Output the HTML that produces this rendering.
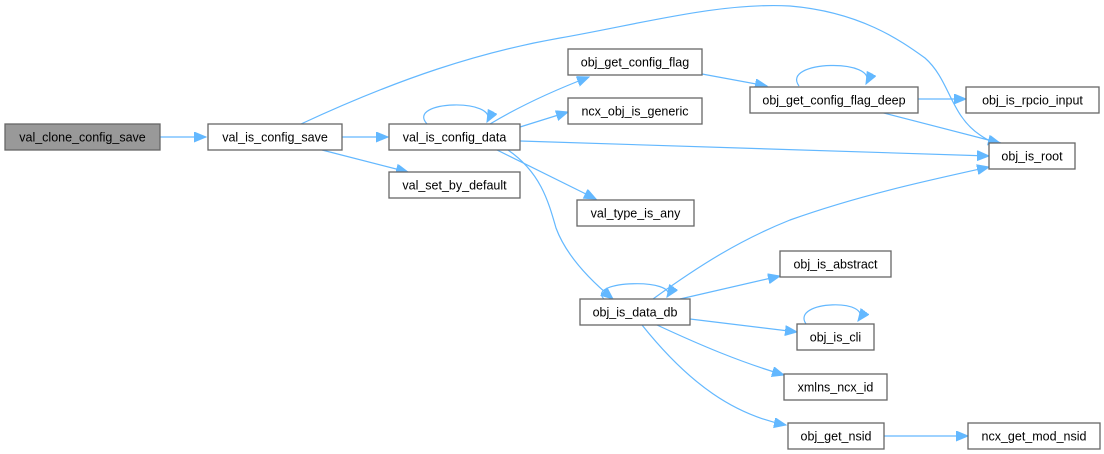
<!DOCTYPE html>
<html><head><meta charset="utf-8"><style>
html,body{margin:0;padding:0;background:#fff;}
svg{display:block;}
text{font-family:"Liberation Sans",Arial,sans-serif;font-size:12.5px;fill:#000;}
.b{fill:#fff;stroke:#666;stroke-width:1.3;}
.e{fill:none;stroke:#63b8ff;stroke-width:1.2;}
</style></head><body>
<svg width="1104" height="454" viewBox="0 0 1104 454" xmlns="http://www.w3.org/2000/svg">
<defs>
<marker id="a" markerUnits="userSpaceOnUse" markerWidth="14" markerHeight="12" refX="12" refY="5" orient="auto">
<path d="M0,0 L12,5 L0,10 Z" fill="#63b8ff" stroke="#63b8ff"/>
</marker>
</defs>
<g>
<path class="e" marker-end="url(#a)" d="M160,137 L206,137"/>
<path class="e" marker-end="url(#a)" d="M342,137 L388,137"/>
<path class="e" marker-end="url(#a)" d="M322,150 L408,172"/>
<path class="e" marker-end="url(#a)" d="M301,124 C400,78 480,52 560,38 C640,24 720,2 790,6 C860,12 900,40 925,58 C950,80 950,115 980,135 C990,142 995,143 1001,143"/>
<path class="e" marker-end="url(#a)" d="M427,124 C405,100 500,98 487,122"/>
<path class="e" marker-end="url(#a)" d="M490,124 C520,106 555,90 589,77"/>
<path class="e" marker-end="url(#a)" d="M520,127 L568,112"/>
<path class="e" marker-end="url(#a)" d="M520,141 L989,156"/>
<path class="e" marker-end="url(#a)" d="M497,150 L596,199"/>
<path class="e" marker-end="url(#a)" d="M508,150 C540,172 548,200 556,228 C566,255 590,280 613,299"/>
<path class="e" marker-end="url(#a)" d="M702,74 L767,86"/>
<path class="e" marker-end="url(#a)" d="M799,86 C780,60 880,58 866,84"/>
<path class="e" marker-end="url(#a)" d="M917,99 L966,99"/>
<path class="e" marker-end="url(#a)" d="M880,112 L1000,143"/>
<path class="e" marker-end="url(#a)" d="M604,299 C585,280 680,278 667,297"/>
<path class="e" marker-end="url(#a)" d="M653,299 C700,265 740,240 790,220 C860,195 930,180 989,167"/>
<path class="e" marker-end="url(#a)" d="M680,299 L780,276"/>
<path class="e" marker-end="url(#a)" d="M690,319 L797,332"/>
<path class="e" marker-end="url(#a)" d="M657,325 C700,345 740,362 784,375"/>
<path class="e" marker-end="url(#a)" d="M642,325 C690,385 735,415 786,425"/>
<path class="e" marker-end="url(#a)" d="M884,436 L968,436"/>
<path class="e" marker-end="url(#a)" d="M806,324 C790,300 875,298 858,321"/>
</g>
<g>
<rect x="5" y="124" width="155" height="26" fill="#999" stroke="#666" stroke-width="1.3"/>
<text x="82.5" y="141.5" text-anchor="middle">val_clone_config_save</text>
<rect class="b" x="208" y="124" width="134" height="26"/><text x="275" y="141.5" text-anchor="middle">val_is_config_save</text>
<rect class="b" x="389" y="124" width="131" height="26"/><text x="454.5" y="141.5" text-anchor="middle">val_is_config_data</text>
<rect class="b" x="389" y="172" width="131" height="26"/><text x="454.5" y="189.5" text-anchor="middle">val_set_by_default</text>
<rect class="b" x="568" y="49" width="134" height="26"/><text x="635" y="66.5" text-anchor="middle">obj_get_config_flag</text>
<rect class="b" x="568" y="98" width="134" height="26"/><text x="635" y="115.5" text-anchor="middle">ncx_obj_is_generic</text>
<rect class="b" x="577" y="200" width="117" height="26"/><text x="635.5" y="217.5" text-anchor="middle">val_type_is_any</text>
<rect class="b" x="750" y="87" width="168" height="26"/><text x="834" y="104.5" text-anchor="middle">obj_get_config_flag_deep</text>
<rect class="b" x="966" y="87" width="133" height="26"/><text x="1032.5" y="104.5" text-anchor="middle">obj_is_rpcio_input</text>
<rect class="b" x="989" y="143" width="86" height="26"/><text x="1032" y="160.5" text-anchor="middle">obj_is_root</text>
<rect class="b" x="580" y="299" width="110" height="26"/><text x="635" y="316.5" text-anchor="middle">obj_is_data_db</text>
<rect class="b" x="780" y="251" width="111" height="26"/><text x="835.5" y="268.5" text-anchor="middle">obj_is_abstract</text>
<rect class="b" x="797" y="324" width="77" height="26"/><text x="835.5" y="341.5" text-anchor="middle">obj_is_cli</text>
<rect class="b" x="784" y="374" width="103" height="26"/><text x="835.5" y="391.5" text-anchor="middle">xmlns_ncx_id</text>
<rect class="b" x="788" y="423" width="96" height="26"/><text x="836" y="440.5" text-anchor="middle">obj_get_nsid</text>
<rect class="b" x="968" y="423" width="132" height="26"/><text x="1034" y="440.5" text-anchor="middle">ncx_get_mod_nsid</text>
</g>
</svg>
</body></html>
